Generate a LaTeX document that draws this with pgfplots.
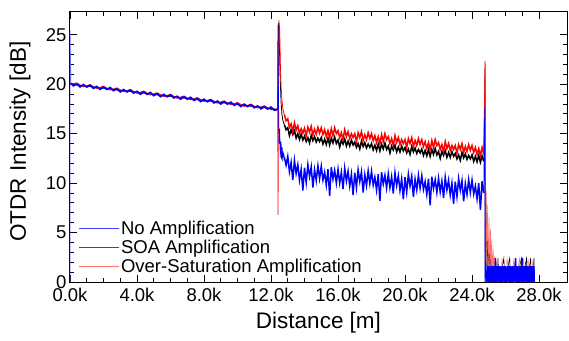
\documentclass[border=0pt]{standalone}
\usepackage{pgfplots}
\pgfplotsset{compat=1.18}
\usepackage{pgfplotstable}
\usepackage{fontspec}
\setmainfont{Liberation Sans}

\pgfplotstableread{
x r k b
12.8 16.9 15.9 12.6
12.9 16.3 15.4 11.8
13.0 16.5 15.6 12.7
13.1 15.65 14.8 11.15
13.2 16.0 15.4 12.1
13.3 15.2 14.9 10.3
13.4 16.1 15.3 12.3
13.5 15.35 14.55 10.95
13.6 15.8 15.0 11.85
13.7 15.05 14.4 10.3
13.8 15.5 14.95 11.4
13.9 15.05 14.35 9.25
14.0 15.55 14.75 11.55
14.1 14.75 14.2 10.05
14.2 15.65 14.6 11.85
14.3 15.15 14.05 10.65
14.4 15.75 14.85 11.65
14.5 14.85 14.3 9.55
14.6 15.45 14.7 11.35
14.7 14.95 14.15 10.25
14.8 15.65 14.55 11.75
14.9 15.05 14.2 10.45
15.0 15.6 14.6 11.7
15.1 14.9 13.95 10.3
15.2 15.4 14.45 11.1
15.3 14.7 13.9 9.8
15.4 15.3 14.55 11.4
15.5 14.6 13.85 8.7
15.6 15.5 14.55 11.6
15.7 14.8 14.05 10.4
15.8 15.6 14.65 11.3
15.9 15.0 14.0 10.0
16.0 15.3 14.35 11.4
16.1 14.6 13.65 10.0
16.2 15.1 14.35 11.1
16.3 14.4 13.95 9.4
16.4 15.4 14.45 11.5
16.5 14.7 13.75 10.2
16.6 15.2 14.25 11.2
16.7 14.5 13.75 9.7
16.8 15.0 14.35 10.9
16.9 14.6 13.85 8.8
17.0 15.0 14.15 11.05
17.1 14.2 13.6 9.55
17.2 15.1 14.0 11.35
17.3 14.6 13.45 10.15
17.4 15.2 14.25 11.15
17.5 14.3 13.7 9.05
17.6 14.9 14.1 10.85
17.7 14.4 13.55 9.75
17.8 15.1 13.95 11.25
17.9 14.5 13.6 9.95
18.0 15.0 14.0 11.2
18.1 14.3 13.35 9.8
18.2 14.8 13.85 10.6
18.3 14.1 13.3 9.3
18.4 14.7 13.95 10.9
18.5 14.0 13.25 8.2
18.6 14.9 13.95 11.1
18.7 14.2 13.45 9.9
18.8 15.0 14.05 10.8
18.9 14.4 13.4 9.5
19.0 14.7 13.75 10.95
19.1 14.0 13.05 9.55
19.2 14.5 13.75 10.65
19.3 13.8 13.35 8.95
19.4 14.8 13.85 11.05
19.5 14.1 13.15 9.75
19.6 14.6 13.65 10.75
19.7 13.9 13.15 9.25
19.8 14.4 13.75 10.45
19.9 14.0 13.25 8.35
20.0 14.4 13.6 10.6
20.1 13.6 13.05 9.1
20.2 14.5 13.45 10.9
20.3 14.0 12.9 9.7
20.4 14.6 13.7 10.7
20.5 13.7 13.15 8.6
20.6 14.3 13.55 10.4
20.7 13.8 13.0 9.3
20.8 14.5 13.4 10.8
20.9 13.9 13.05 9.5
21.0 14.4 13.45 10.75
21.1 13.7 12.8 9.35
21.2 14.2 13.3 10.15
21.3 13.5 12.75 8.85
21.4 14.1 13.4 10.45
21.5 13.4 12.7 7.75
21.6 14.3 13.4 10.65
21.7 13.6 12.9 9.45
21.8 14.4 13.5 10.35
21.9 13.8 12.85 9.05
22.0 14.1 13.2 10.5
22.1 13.4 12.5 9.1
22.2 13.9 13.2 10.2
22.3 13.2 12.8 8.5
22.4 14.2 13.3 10.6
22.5 13.5 12.6 9.3
22.6 14.0 13.1 10.3
22.7 13.3 12.6 8.8
22.8 13.8 13.2 10.0
22.9 13.4 12.7 7.9
23.0 13.8 13.0 10.15
23.1 13.0 12.45 8.65
23.2 13.9 12.85 10.45
23.3 13.4 12.3 9.25
23.4 14.0 13.1 10.25
23.5 13.1 12.55 8.15
23.6 13.7 12.95 9.95
23.7 13.2 12.4 8.85
23.8 13.9 12.8 10.35
23.9 13.3 12.45 9.05
24.0 13.8 12.85 10.3
24.1 13.1 12.2 8.9
24.2 13.6 12.7 9.7
24.3 12.9 12.15 8.4
24.4 13.5 12.8 10.0
24.5 12.8 12.1 7.3
24.6 13.6 12.75 10.2
24.7 12.9 12.2 9.0
}\noisy

\begin{document}
\begin{tikzpicture}
\begin{axis}[
  name=ax,
  scale only axis,
  width=497pt, height=270pt,
  xmin=0, xmax=29.67, ymin=0, ymax=27.3,
  xtick={0,4,8,12,16,20,24,28},
  xticklabels={0.0k,4.0k,8.0k,12.0k,16.0k,20.0k,24.0k,28.0k},
  ytick={0,5,10,15,20,25},
  minor x tick num=3, minor y tick num=4,
  tick align=inside,
  major tick length=7pt, minor tick length=4pt,
  every tick/.style={black, line width=0.8pt},
  axis line style={line width=1pt},
  /pgf/number format/assume math mode=true,
  tick label style={font=\fontsize{18.5}{21}\selectfont},
  xticklabel style={yshift=-3pt},
  label style={font=\fontsize{22.5}{26}\selectfont},
  xlabel={Distance [m]},
  ylabel={OTDR Intensity [dB]},
  xlabel style={at={(axis description cs:0.5,-0.152)}, anchor=center},
  ylabel style={at={(axis description cs:-0.1006,0.52)}, anchor=center},
  legend style={at={(axis description cs:0.01,0.015)}, anchor=south west,
    draw=none, fill=none, font=\fontsize{18.5}{22}\selectfont,
    row sep=0pt, cells={anchor=west}},
  legend image code/.code={\draw[#1] (0cm,0cm) -- (40pt,0cm);},
  clip=true,
]
\addlegendimage{blue!75!white, line width=0.9pt}
\addlegendentry{No Amplification}
\addlegendimage{black!70!white, line width=0.9pt}
\addlegendentry{SOA Amplification}
\addlegendimage{red!55!white, line width=0.9pt}
\addlegendentry{Over-Saturation Amplification}

% ---- SOA (black)
\addplot[black, line width=0.8pt, forget plot] coordinates {
(0,20.0)(2,19.59)(4,19.18)(6,18.77)(8,18.36)(10,17.94)(12,17.53)(12.4,17.45)
(12.45,26.2)(12.5,24)(12.55,20.5)(12.6,18.2)(12.65,17.0)(12.7,16.4)(12.75,16.1)(12.8,15.9)
};
\addplot[black, line width=1.5pt, forget plot] table[x=x, y=k] {\noisy};
\addplot[black, line width=0.6pt, forget plot] coordinates {
(24.7,12.2)(24.77,21.6)(24.79,0.5)(24.84,8.0)(24.88,1.6)(24.92,5.6)(24.96,0)(25.0,4.2)
(25.05,1.6)(25.09,3.1)(25.13,0)(25.2,2.4)(25.25,0)(25.5,0)(25.55,2.4)(25.6,0)(25.9,2.4)
(25.95,0)(26.25,2.4)(26.3,0)(26.55,1.6)(26.6,2.4)(26.65,0)(26.95,2.4)(27.0,0)(27.25,2.4)
(27.3,0)(27.5,2.4)(27.55,0)(27.7,2.4)(27.72,0)
};

% ---- Over-saturation (red)
\addplot[red, line width=1pt, forget plot] coordinates {
(0,20.0)(0.4,20.12)(0.8,19.74)(1.2,19.95)(1.6,19.57)(2.0,19.79)(2.4,19.41)(2.8,19.62)
(3.2,19.24)(3.6,19.46)(4.0,19.08)(4.4,19.30)(4.8,18.91)(5.2,19.13)(5.6,18.75)(6.0,18.97)
(6.4,18.58)(6.8,18.80)(7.2,18.42)(7.6,18.64)(8.0,18.26)(8.4,18.47)(8.8,18.09)(9.2,18.31)
(9.6,17.93)(10.0,18.14)(10.4,17.76)(10.8,17.98)(11.2,17.60)(11.6,17.81)(12.0,17.43)(12.4,17.5)
};
\addplot[red, line width=0.7pt, forget plot] coordinates {
(12.4,17.5)(12.42,6.8)(12.47,26.5)(12.52,25.5)(12.56,22)(12.6,19.8)(12.65,18.5)(12.7,17.6)(12.75,17.2)(12.8,16.9)
};
\addplot[red, line width=1.5pt, forget plot] table[x=x, y=r] {\noisy};
\addplot[red!55!white, line width=0.5pt, forget plot] coordinates {
(24.7,12.9)(24.78,22.3)(24.8,1.0)(24.85,9.2)(24.88,1.6)(24.93,7.8)(24.97,1.6)(25.02,6.6)
(25.06,0)(25.1,5.4)(25.14,1.6)(25.18,4.3)(25.22,0)(25.26,3.4)(25.3,1.6)(25.34,2.6)(25.38,0)
(25.45,1.6)(25.5,2.4)(25.55,0)(25.75,1.6)(25.8,2.4)(25.85,0)(26.1,2.4)(26.15,0)
(26.45,1.6)(26.5,2.4)(26.55,0)(26.85,2.4)(26.9,0)(27.05,2.4)(27.1,1.6)(27.15,0)
(27.35,2.4)(27.4,0)(27.6,1.6)(27.65,2.4)(27.7,0)
};
\addplot[red, line width=0.8pt, forget plot] coordinates {(24.7,12.9)(24.78,22.3)(24.8,1.0)};

% ---- No amplification (blue)
\addplot[blue!60!white, line width=0.8pt, forget plot] coordinates {(0,0)(0,25.5)(0.05,20.1)};
\addplot[blue, line width=1.7pt, forget plot] coordinates {
(0.05,20.1)
(0.2,19.84)(0.4,20.02)(0.6,19.73)(0.8,19.96)(1.0,19.71)(1.2,19.90)(1.4,19.59)(1.6,19.77)
(1.8,19.48)(2.0,19.71)(2.2,19.47)(2.4,19.66)(2.6,19.35)(2.8,19.52)(3.0,19.23)(3.2,19.46)
(3.4,19.22)(3.6,19.41)(3.8,19.10)(4.0,19.28)(4.2,18.99)(4.4,19.22)(4.6,18.97)(4.8,19.16)
(5.0,18.85)(5.2,19.03)(5.4,18.74)(5.6,18.97)(5.8,18.73)(6.0,18.92)(6.2,18.61)(6.4,18.78)
(6.6,18.49)(6.8,18.72)(7.0,18.48)(7.2,18.67)(7.4,18.36)(7.6,18.54)(7.8,18.25)(8.0,18.48)
(8.2,18.23)(8.4,18.42)(8.6,18.11)(8.8,18.29)(9.0,18.00)(9.2,18.23)(9.4,17.99)(9.6,18.18)
(9.8,17.87)(10.0,18.04)(10.2,17.75)(10.4,17.98)(10.6,17.74)(10.8,17.93)(11.0,17.62)(11.2,17.80)
(11.4,17.51)(11.6,17.73)(11.8,17.49)(12.0,17.68)(12.2,17.37)(12.4,17.45)
};
\addplot[blue, line width=0.7pt, forget plot] coordinates {
(12.4,17.45)(12.41,26.0)(12.45,18)(12.48,14.0)(12.52,15.5)(12.55,12.6)(12.6,14.2)(12.63,12.4)
(12.67,13.6)(12.7,12.2)(12.75,13.0)(12.8,12.6)
};
\addplot[blue, line width=1.5pt, forget plot] table[x=x, y=b] {\noisy};
\addplot[blue, line width=0.7pt, forget plot] coordinates {
(24.7,9.0)(24.76,17.7)(24.78,0)(24.8,2.0)(24.85,0)
};
\addplot[blue, line width=1.3pt, forget plot] coordinates {
(24.85,0)
(24.90,1.6)(24.95,0)(25.00,1.6)(25.05,0)(25.10,1.6)(25.15,0)(25.20,1.6)(25.25,0)
(25.30,1.6)(25.35,0)(25.40,2.4)(25.45,0)(25.50,1.6)(25.55,0)(25.60,1.6)(25.65,0)
(25.70,1.6)(25.75,0)(25.80,1.6)(25.85,0)(25.90,1.6)(25.95,0)(26.00,1.6)(26.05,0)
(26.10,1.6)(26.15,0)(26.20,1.6)(26.25,0)(26.30,1.6)(26.35,0)(26.40,1.6)(26.45,0)
(26.50,1.6)(26.55,0)(26.60,2.4)(26.65,0)(26.70,1.6)(26.75,0)(26.80,1.6)(26.85,0)
(26.90,1.6)(26.95,0)(27.00,2.4)(27.05,0)(27.10,1.6)(27.15,0)(27.20,1.6)(27.25,0)
(27.30,1.6)(27.35,0)(27.40,1.6)(27.45,0)(27.50,1.6)(27.55,0)(27.60,1.6)(27.65,0)
(27.70,1.6)(27.72,0)
};
\end{axis}
\pgfresetboundingbox
\path ([xshift=-70pt,yshift=-58pt]ax.south west) rectangle ([xshift=2pt,yshift=12pt]ax.north east);
\end{tikzpicture}
\end{document}
